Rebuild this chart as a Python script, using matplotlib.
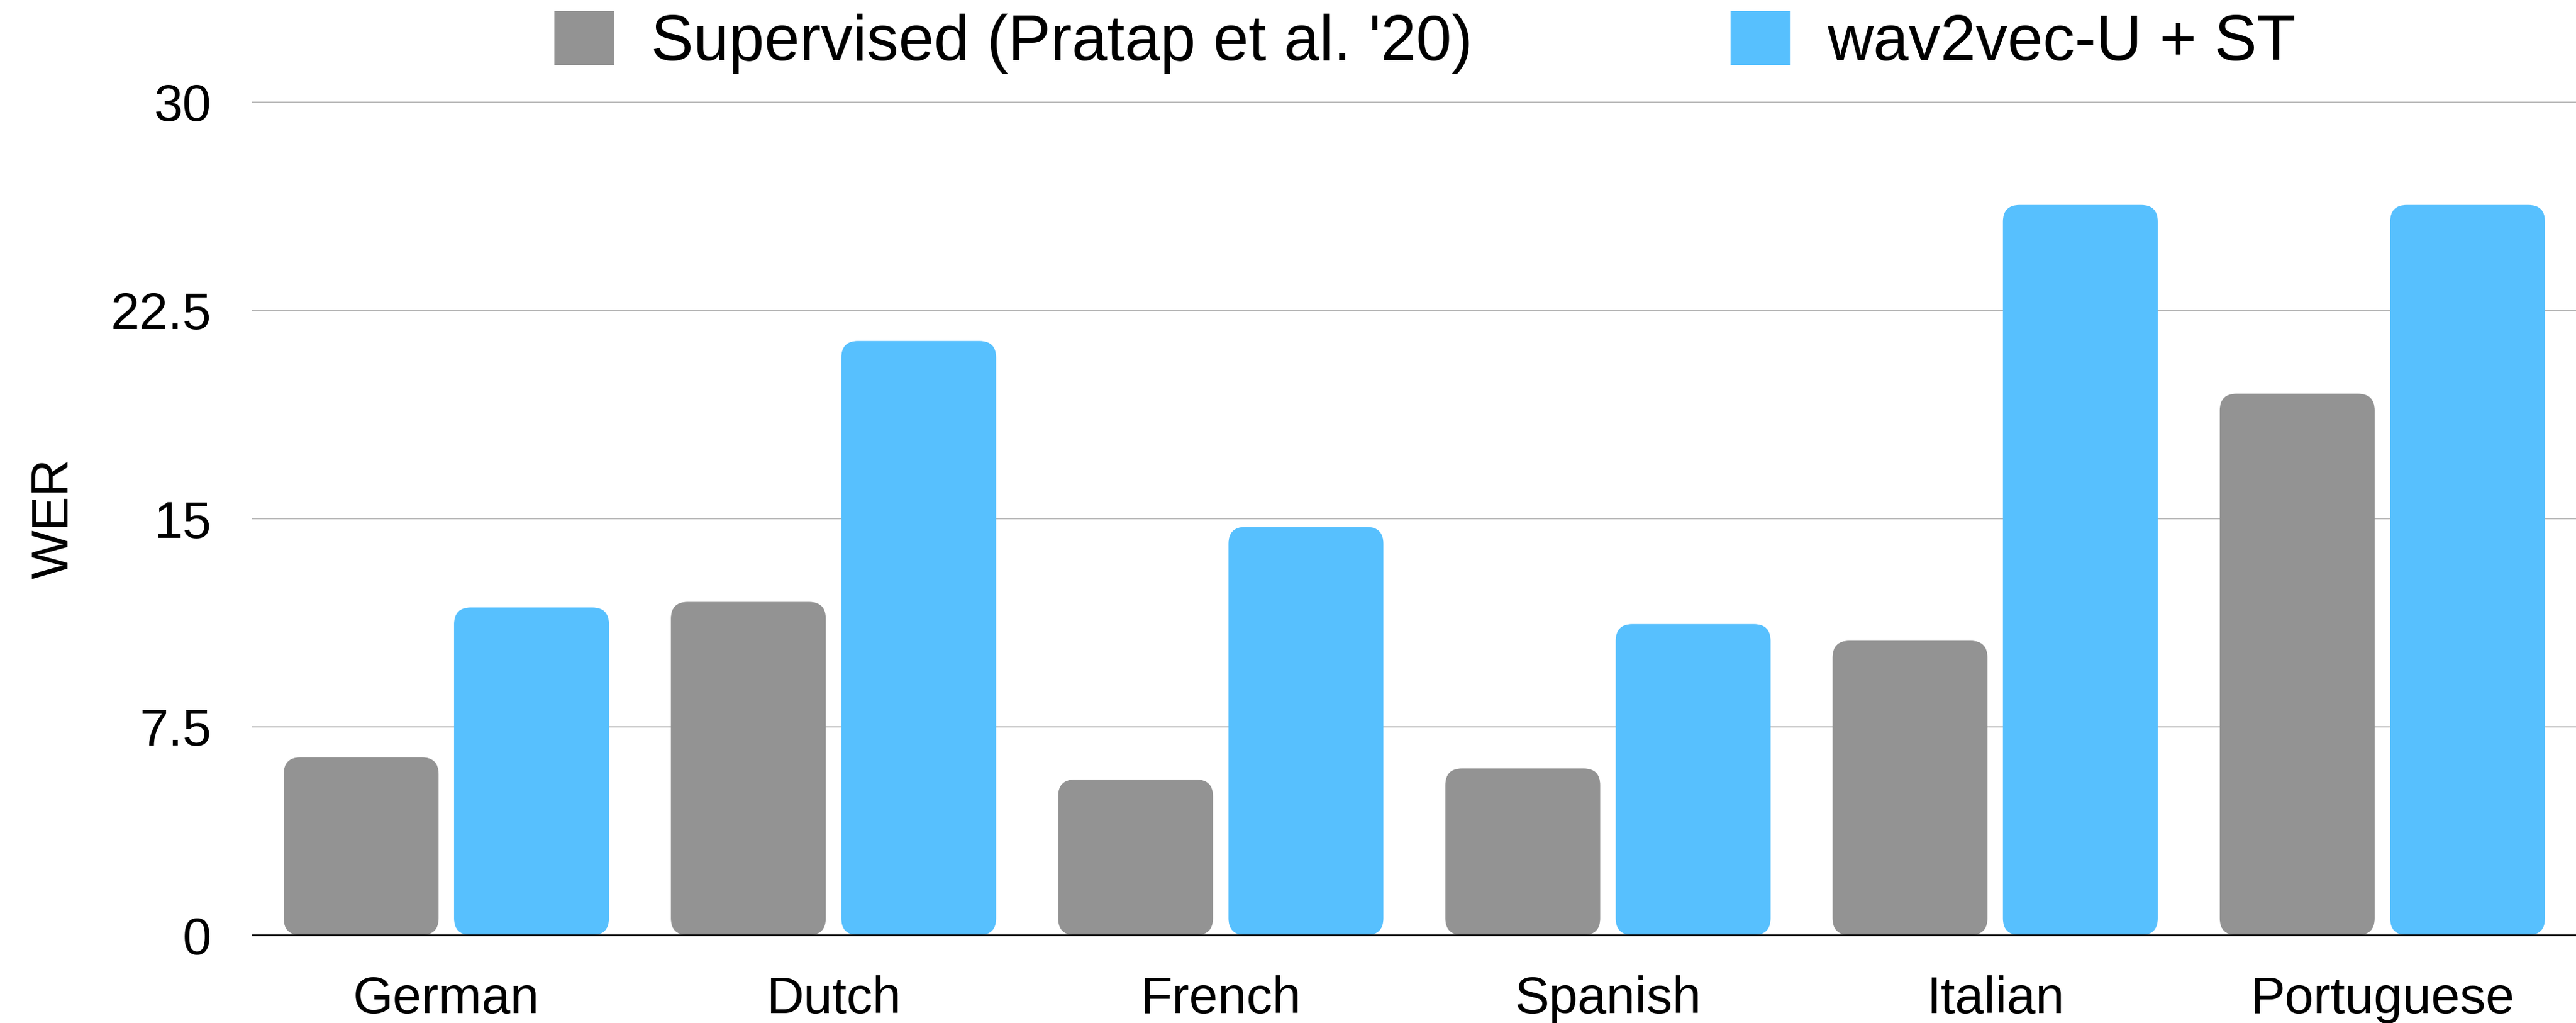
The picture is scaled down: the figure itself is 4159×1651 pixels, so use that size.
# Importation

import numpy as np
import matplotlib
matplotlib.use("Agg")
import matplotlib.pyplot as plt
from matplotlib.patches import FancyBboxPatch, Patch

# Données

langues = ["German", "Dutch", "French", "Spanish", "Italian", "Portuguese"]
supervise = [6.4, 12.0, 5.6, 6.0, 10.6, 19.5]
wav2vec_st = [11.8, 21.4, 14.7, 11.2, 26.3, 26.3]
noms_series = ["Supervised (Pratap et al. '20)", "wav2vec-U + ST"]
graduations = [0, 7.5, 15, 22.5, 30]
etiquettes_y = ["0", "7.5", "15", "22.5", "30"]

gris = "#939393"
bleu = "#57c0fe"

plt.rcParams["font.family"] = ["Liberation Sans", "DejaVu Sans"]


def arrondir(ax, barres, couleur):
    # remplace chaque rectangle par une version aux coins arrondis
    for rect in list(barres):
        x, y = rect.get_xy()
        w, h = rect.get_width(), rect.get_height()
        rect.remove()
        ax.add_patch(FancyBboxPatch((x, y), w, h,
                                    boxstyle="round,pad=0,rounding_size=0.043",
                                    mutation_aspect=14, facecolor=couleur,
                                    edgecolor="none", zorder=3))


fig = plt.figure(figsize=(41.59, 16.51), dpi=100)
ax = fig.add_axes([408 / 4159, 142 / 1651, 1 - 408 / 4159, 1344 / 1651])

x = np.arange(len(langues))
largeur = 0.40
b1 = ax.bar(x - 0.22, supervise, largeur, color=gris)
b2 = ax.bar(x + 0.22, wav2vec_st, largeur, color=bleu)
arrondir(ax, b1, gris)
arrondir(ax, b2, bleu)

ax.set_xlim(-0.5, 5.5)
ax.set_ylim(0, 30)

# grille horizontale
for g in graduations[1:]:
    ax.axhline(g, color="#bdbdbd", lw=1.6, zorder=1, clip_on=False)
ax.axhline(0, color="black", lw=2.0, zorder=4, clip_on=False)

for s in ax.spines.values():
    s.set_visible(False)

ax.set_yticks(graduations)
ax.set_yticklabels(etiquettes_y)
ax.set_xticks(x)
ax.set_xticklabels(langues)
ax.tick_params(axis="y", length=0, pad=48, labelsize=60)
ax.tick_params(axis="x", length=0, pad=47, labelsize=60)

ax.set_ylabel("WER", fontsize=60)
ax.yaxis.set_label_coords(-0.075, 0.5)

poignees = [Patch(facecolor=gris, edgecolor="none"),
            Patch(facecolor=bleu, edgecolor="none")]
fig.legend(poignees, noms_series, loc="center", ncol=2,
           bbox_to_anchor=(0.5533, 0.9588), frameon=False, fontsize=74,
           handlelength=0.94, handleheight=0.93, handletextpad=0.58,
           columnspacing=4.05, borderpad=0, borderaxespad=0)

fig.savefig("out.png", dpi=100, facecolor="white")
